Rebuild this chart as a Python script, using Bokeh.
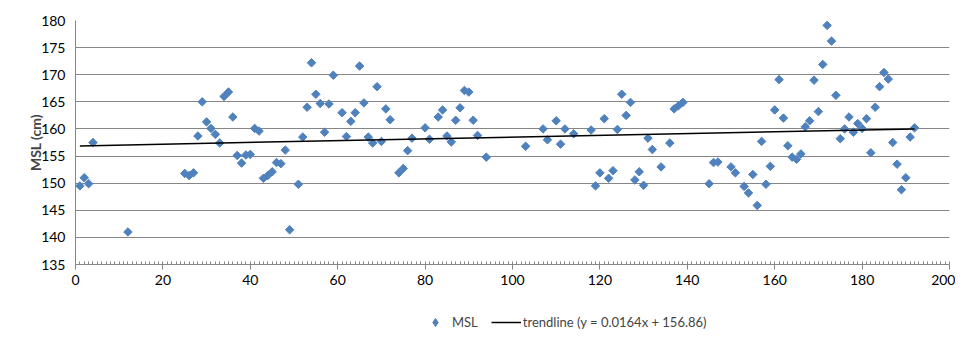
import numpy as np
from bokeh.plotting import figure
from bokeh.layouts import column
from bokeh.models import FixedTicker, Legend, LegendItem, Range1d
from bokeh.embed import file_html
from bokeh.resources import INLINE

# ---- data ----
day = [1, 2, 3, 4, 12, 25, 26, 27, 28, 29, 30, 31, 32, 33, 34, 35, 36, 37, 38, 39, 40,
       41, 42, 43, 44, 45, 46, 47, 48, 49, 51, 52, 53, 54, 55, 56, 57, 58, 59, 61, 62,
       63, 64, 65, 66, 67, 68, 69, 70, 71, 72, 74, 75, 76, 77, 80, 81, 83, 84, 85, 86,
       87, 88, 89, 90, 91, 92, 94, 103, 107, 108, 110, 111, 112, 114, 118, 119, 120,
       121, 122, 123, 124, 125, 126, 127, 128, 129, 130, 131, 132, 134, 136, 137, 138,
       139, 145, 146, 147, 150, 151, 153, 154, 155, 156, 157, 158, 159, 160, 161, 162,
       163, 164, 165, 166, 167, 168, 169, 170, 171, 172, 173, 174, 175, 176, 177, 178,
       179, 180, 181, 182, 183, 184, 185, 186, 187, 188, 189, 190, 191, 192]
msl = [149.5, 151.0, 149.9, 157.5, 141.0, 151.8, 151.4, 151.9, 158.7, 165.0, 161.3,
       160.1, 159.0, 157.4, 166.0, 166.8, 162.2, 155.1, 153.7, 155.2, 155.3, 160.1,
       159.6, 150.9, 151.4, 152.1, 153.8, 153.6, 156.1, 141.4, 149.8, 158.5, 164.0,
       172.2, 166.4, 164.7, 159.4, 164.6, 169.9, 163.0, 158.6, 161.4, 163.0, 171.6,
       164.8, 158.5, 157.4, 167.8, 157.7, 163.7, 161.7, 151.9, 152.7, 156.0, 158.3,
       160.2, 158.1, 162.2, 163.5, 158.7, 157.6, 161.6, 163.9, 167.1, 166.8, 161.6,
       158.8, 154.8, 156.8, 160.0, 158.0, 161.5, 157.2, 160.0, 159.1, 159.8, 149.5,
       151.9, 161.9, 150.9, 152.3, 159.9, 166.4, 162.5, 164.9, 150.6, 152.1, 149.6,
       158.3, 156.2, 153.0, 157.4, 163.7, 164.3, 164.9, 149.9, 153.8, 153.9, 153.0,
       151.9, 149.4, 148.2, 151.6, 145.9, 157.7, 149.8, 153.1, 163.5, 169.1, 162.0,
       156.9, 154.8, 154.4, 155.4, 160.4, 161.5, 169.0, 163.2, 171.9, 179.1, 176.2,
       166.2, 158.2, 160.0, 162.2, 159.4, 161.0, 160.1, 161.9, 155.6, 164.0, 167.8,
       170.4, 169.2, 157.5, 153.5, 148.8, 151.0, 158.5, 160.2]
trend_slope = 0.0164
trend_intercept = 156.86
x_ticks = [0, 20, 40, 60, 80, 100, 120, 140, 160, 180, 200]
y_ticks = [135, 140, 145, 150, 155, 160, 165, 170, 175, 180]

FONT = "Lato"
BLUE = "#4F81BD"
GRID = "#868686"

p = figure(width=955, height=292, output_backend="svg", toolbar_location=None,
           x_range=Range1d(0, 200), y_range=Range1d(135, 180),
           min_border_left=75, min_border_right=6, min_border_top=20,
           min_border_bottom=28)
p.background_fill_color = "white"
p.border_fill_color = "white"
p.outline_line_color = None

# axes
p.xaxis.ticker = FixedTicker(ticks=x_ticks, minor_ticks=list(range(0, 201, 1)))
p.yaxis.ticker = FixedTicker(ticks=y_ticks, minor_ticks=[])
for ax in (p.xaxis[0], p.yaxis[0]):
    ax.axis_line_color = GRID
    ax.major_tick_line_color = GRID
    ax.minor_tick_line_color = GRID
    ax.major_label_text_font = FONT
    ax.major_label_text_font_size = "14px"
    ax.major_label_text_color = "#000000"
p.xaxis.major_tick_in = 0
p.xaxis.major_tick_out = 5
p.xaxis.minor_tick_in = 3
p.xaxis.minor_tick_out = 0
p.xaxis.major_label_standoff = 5
p.yaxis.major_tick_in = 0
p.yaxis.major_tick_out = 0
p.yaxis.major_label_standoff = 10
p.yaxis.axis_label = "MSL (cm)"
p.yaxis.axis_label_text_font = FONT
p.yaxis.axis_label_text_font_size = "14px"
p.yaxis.axis_label_text_font_style = "bold"
p.yaxis.axis_label_standoff = -6

p.xgrid.grid_line_color = None
p.ygrid.grid_line_color = GRID
p.ygrid.grid_line_width = 1

# data
pts = p.scatter(day, msl, marker="square", angle=np.pi / 4, size=6,
                fill_color=BLUE, line_color=BLUE)
tx = np.array([min(day), max(day)], dtype=float)
ty = trend_slope * tx + trend_intercept
p.line(tx, ty, line_color="black", line_width=1.5)

# legend strip below the chart (proxy renderers lie outside its view)
lf = figure(width=955, height=40, output_backend="svg", toolbar_location=None,
            x_range=Range1d(1000, 1001), y_range=Range1d(1000, 1001),
            x_axis_location=None, y_axis_location=None,
            min_border=0, min_border_left=75, min_border_right=6,
            min_border_top=0, min_border_bottom=0)
lf.grid.visible = False
lf.outline_line_color = None
lf.background_fill_color = "white"
lf.border_fill_color = "white"
lp = lf.scatter(day, msl, marker="diamond", size=9,
                fill_color=BLUE, line_color=BLUE)
ll = lf.line(tx, ty, line_color="black", line_width=1.5)
legend = Legend(items=[
    LegendItem(label="MSL", renderers=[lp]),
    LegendItem(label="trendline (y = %.4fx + %.2f)" % (trend_slope, trend_intercept),
               renderers=[ll]),
], orientation="horizontal", location=(345, 0))
legend.label_text_font = FONT
legend.label_text_font_size = "13px"
legend.glyph_width = 30
legend.glyph_height = 20
legend.label_standoff = 2
legend.spacing = 13
legend.padding = 0
legend.margin = 0
legend.border_line_color = None
legend.background_fill_alpha = 0
lf.add_layout(legend, "center")

layout = column(p, lf, spacing=0)
open("out.html", "w").write(file_html(layout, INLINE))
